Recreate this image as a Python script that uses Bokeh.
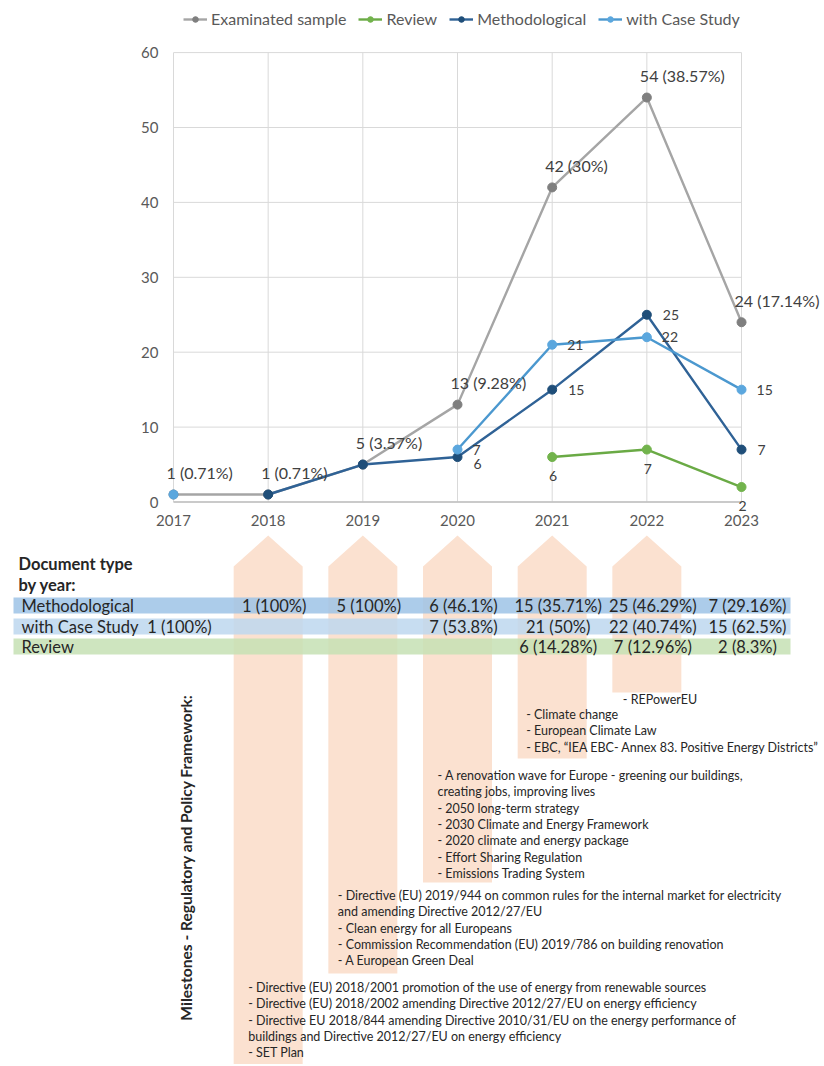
import math
from bokeh.plotting import figure
from bokeh.models import Range1d, FixedTicker, Legend, LegendItem, Label
from bokeh.layouts import column
from bokeh.embed import file_html
from bokeh.resources import INLINE
from bokeh.core.properties import value

nan = float("nan")

# ---------------- data ----------------
years = [2017, 2018, 2019, 2020, 2021, 2022, 2023]
examined = [1, 1, 5, 13, 42, 54, 24]
examined_labels = ["1 (0.71%)", "1 (0.71%)", "5 (3.57%)", "13 (9.28%)", "42  (30%)", "54 (38.57%)", "24 (17.14%)"]
review = [nan, nan, nan, nan, 6, 7, 2]
methodological = [nan, 1, 5, 6, 15, 25, 7]
case_study = [1, nan, nan, 7, 21, 22, 15]
# which points carry their own value label (the others are covered by the sample label)
meth_labelled = [False, False, False, True, True, True, True]
case_labelled = [False, False, False, True, True, True, True]
y_ticks = [0, 10, 20, 30, 40, 50, 60]

table_rows = ["Methodological", "with Case Study", "Review"]
table_methodological = ["", "1 (100%)", "5 (100%)", "6 (46.1%)", "15 (35.71%)", "25 (46.29%)", "7 (29.16%)"]
table_case = ["1 (100%)", "", "", "7 (53.8%)", "21 (50%)", "22 (40.74%)", "15 (62.5%)"]
table_review = ["", "", "", "", "6 (14.28%)", "7 (12.96%)", "2 (8.3%)"]

milestone_years = [2018, 2019, 2020, 2021, 2022]
milestones = {
    2022: ["- REPowerEU"],
    2021: ["- Climate change",
           "- European Climate Law",
           "- EBC, \u201cIEA EBC- Annex 83. Positive Energy Districts\u201d"],
    2020: ["- A renovation wave for Europe - greening our buildings,",
           "creating jobs, improving lives",
           "- 2050 long-term strategy",
           "- 2030 Climate and Energy Framework",
           "- 2020 climate and energy package",
           "- Effort Sharing Regulation",
           "- Emissions Trading System"],
    2019: ["- Directive (EU) 2019/944  on common rules for the internal market for electricity",
           "and amending Directive 2012/27/EU",
           "- Clean energy for all Europeans",
           "- Commission Recommendation (EU) 2019/786  on building renovation",
           "- A European Green Deal"],
    2018: ["- Directive (EU) 2018/2001 promotion of the use of energy from renewable sources",
           "- Directive (EU) 2018/2002  amending Directive 2012/27/EU on energy efficiency",
           "- Directive EU 2018/844  amending Directive 2010/31/EU on the energy performance of",
           "buildings and Directive 2012/27/EU on energy efficiency",
           "- SET Plan"],
}

# ---------------- styling / layout ----------------
FONT = value("Lato")
C_GRAY_LINE, C_GRAY_DOT = "#a5a5a5", "#7f7f7f"
C_GREEN_LINE, C_GREEN_DOT = "#6aaa45", "#72b34c"
C_DARK_LINE, C_DARK_DOT = "#2f6296", "#1f4e79"
C_LIGHT_LINE, C_LIGHT_DOT = "#4b98cf", "#5ba7de"
TXT = "#404040"

W = 820
PX = 94.67    # pixels per year
YPX = 7.49    # pixels per document
X0 = 173      # x of 2017
Y0 = 501.5    # y of 0
FRAME_L, FRAME_B = 161, 512


def yr(px):
    return years[0] + (px - X0) / PX


def no_align(fig):
    try:
        fig.frame_align = False
    except Exception:
        pass


# ---------------- top chart ----------------
p = figure(frame_width=W - FRAME_L, frame_height=FRAME_B,
           x_range=Range1d(yr(FRAME_L), yr(W)),
           y_range=Range1d(-(FRAME_B - Y0) / YPX, 60 + (Y0 - 60 * YPX) / YPX),
           min_border_left=FRAME_L, min_border_right=0, min_border_top=0, min_border_bottom=22,
           output_backend="svg", toolbar_location=None)
no_align(p)
p.xgrid.visible = False
p.ygrid.visible = False
p.outline_line_color = None

# grid lines from the tick arrays
p.segment(x0=years, y0=[y_ticks[0]] * len(years), x1=years, y1=[y_ticks[-1]] * len(years),
          line_color="#d9d9d9", line_width=1)
p.segment(x0=[years[0]] * len(y_ticks), y0=y_ticks, x1=[years[-1]] * len(y_ticks), y1=y_ticks,
          line_color="#d9d9d9", line_width=1)
p.segment(x0=[years[0]], y0=[y_ticks[0]], x1=[years[-1]], y1=[y_ticks[0]],
          line_color="#bfbfbf", line_width=1.3)

for ax in (p.xaxis[0], p.yaxis[0]):
    ax.axis_line_color = None
    ax.major_tick_line_color = None
    ax.minor_tick_line_color = None
    ax.major_tick_out = 0
    ax.major_tick_in = 0
    ax.minor_tick_out = 0
    ax.major_label_text_font = "Lato"
    ax.major_label_text_font_size = "15px"
    ax.major_label_text_color = "#595959"
p.yaxis.ticker = FixedTicker(ticks=y_ticks)
p.xaxis.ticker = FixedTicker(ticks=years)
p.yaxis.major_label_standoff = 3
p.xaxis.major_label_standoff = 2

series = [
    ("Examinated sample", examined, C_GRAY_LINE, C_GRAY_DOT),
    ("Review", review, C_GREEN_LINE, C_GREEN_DOT),
    ("Methodological", methodological, C_DARK_LINE, C_DARK_DOT),
    ("with Case Study", case_study, C_LIGHT_LINE, C_LIGHT_DOT),
]
items = []
for name, vals, lc, dc in series:
    ln = p.line(years, vals, line_color=lc, line_width=2.4)
    sc = p.scatter(years, vals, size=9, fill_color=dc, line_color=dc)
    items.append(LegendItem(label=name, renderers=[ln, sc]))

legend = Legend(items=items, orientation="horizontal", location=(22, 484),
                border_line_color=None, background_fill_alpha=0,
                label_text_font="Lato", label_text_font_size="16px", label_text_color="#595959",
                glyph_width=24, glyph_height=14, label_standoff=4, spacing=12,
                padding=0, margin=0)
p.add_layout(legend)

# value labels
p.text(x=years, y=examined, text=examined_labels, x_offset=-7, y_offset=-22,
       text_align="left", text_baseline="middle", text_font=FONT,
       text_font_size="16px", text_color=TXT)


def labelled(vals, flags=None):
    xs, ys, ts = [], [], []
    for i, v in enumerate(vals):
        if v == v and (flags is None or flags[i]):
            xs.append(years[i]); ys.append(v); ts.append(str(int(v)))
    return xs, ys, ts


mx, my, mt = labelled(methodological, meth_labelled)
cx, cy, ct = labelled(case_study, case_labelled)
# the 2020 methodological label sits a little lower (leader line in the original)
my_off = [7 if x == 2020 else 0 for x in mx]
p.text(x=mx, y=my, text=mt, x_offset=16, y_offset=my_off, text_align="left", text_baseline="middle",
       text_font=FONT, text_font_size="14px", text_color=TXT)
p.text(x=cx, y=cy, text=ct, x_offset=15, y_offset=0, text_align="left", text_baseline="middle",
       text_font=FONT, text_font_size="14px", text_color=TXT)
rx, ry, rt = labelled(review)
p.text(x=rx, y=ry, text=rt, x_offset=1, y_offset=19, text_align="center", text_baseline="middle",
       text_font=FONT, text_font_size="14px", text_color=TXT)

p.add_layout(Label(x=yr(115), y=(Y0 - 245) / YPX, text="No. of documents", angle=math.pi / 2,
                   text_align="center", text_baseline="middle", text_font="Lato",
                   text_font_size="16.5px", text_color="#595959"))

# ---------------- lower panel: table + milestones ----------------
TOP, BOT = FRAME_B + 22, 1064
q = figure(width=W, height=BOT - TOP, x_range=Range1d(yr(0), yr(W)), y_range=Range1d(BOT, TOP),
           min_border=0, x_axis_location=None, y_axis_location=None,
           output_backend="svg", toolbar_location=None)
no_align(q)
q.xgrid.visible = False
q.ygrid.visible = False
q.outline_line_color = None

arrow_bottom = [BOT, 973, 882, 758, 692]
hw = 34.5 / PX
tip, shoulder = 535, 566
axs, ays = [], []
for y_, b in zip(milestone_years, arrow_bottom):
    axs.append([y_ - hw, y_ - hw, y_, y_ + hw, y_ + hw])
    ays.append([b, shoulder, tip, shoulder, b])
q.patches(axs, ays, fill_color="#fbe1d0", line_color=None)

row_y = [605, 626, 646]
band_colors = ["#9dc3e6", "#bdd7ee", "#c5e0b4"]
q.quad(left=[yr(13)] * 3, right=[yr(790)] * 3, top=[r - 8 for r in row_y], bottom=[r + 8 for r in row_y],
       fill_color=band_colors, fill_alpha=0.85, line_color=None)

q.text(x=[yr(18), yr(18)], y=[563, 584], text=["Document type", " by year:"], text_align="left",
       text_baseline="middle", text_font=FONT, text_font_style="bold", text_font_size="16.5px",
       text_color="#262626")
q.text(x=[yr(21)] * 3, y=row_y, text=table_rows, text_align="left", text_baseline="middle",
       text_font=FONT, text_font_size="16.5px", text_color="#262626")
for r, vals in zip(row_y, [table_methodological, table_case, table_review]):
    xs = [years[i] + 6 / PX for i, t in enumerate(vals) if t]
    ts = [t for t in vals if t]
    q.text(x=xs, y=[r] * len(xs), text=ts, text_align="center", text_baseline="middle",
           text_font=FONT, text_font_size="16.5px", text_color="#262626")

q.text(x=[yr(185)], y=[857], text=["Milestones - Regulatory and Policy Framework:"], angle=math.pi / 2,
       text_align="center", text_baseline="middle", text_font=FONT, text_font_style="bold",
       text_font_size="15.6px", text_color="#262626")

group_dx = {2018: -20, 2019: -25, 2020: -20, 2021: -26, 2022: -24}
group_y = {2018: 987, 2019: 895, 2020: 775, 2021: 714, 2022: 699}
LS = 16.3
mxs, mys, mts = [], [], []
for y_ in milestone_years:
    for i, line in enumerate(milestones[y_]):
        mxs.append(y_ + group_dx[y_] / PX)
        mys.append(group_y[y_] + i * LS)
        mts.append(line)
q.text(x=mxs, y=mys, text=mts, text_align="left", text_baseline="middle", text_font=FONT,
       text_font_size="12.5px", text_color="#262626")

layout = column(p, q, spacing=0)
open("out.html", "w").write(file_html(layout, INLINE))
